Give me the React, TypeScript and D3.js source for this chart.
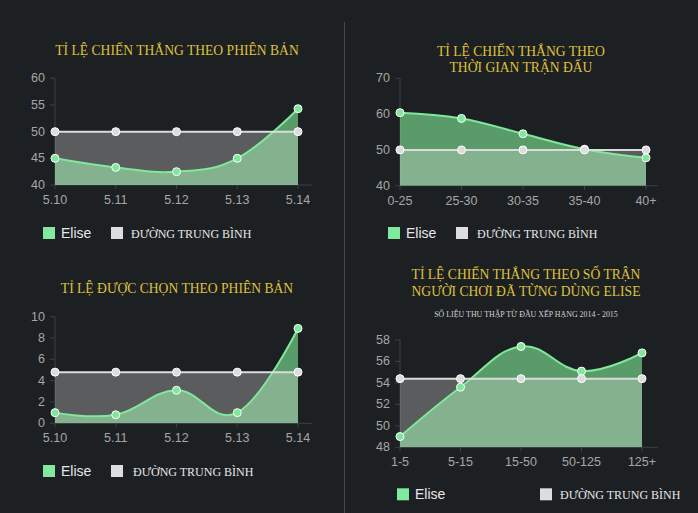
import React from "react";
import * as d3 from "d3";

// ---- data ----
const versions = ["5.10", "5.11", "5.12", "5.13", "5.14"];
const winRateByVersion = [45, 43.3, 42.5, 45, 54.3];
const winRateByVersionAvg = [50, 50, 50, 50, 50];

const durations = ["0-25", "25-30", "30-35", "35-40", "40+"];
const winRateByDuration = [60.4, 58.8, 54.5, 50.2, 47.8];
const winRateByDurationAvg = [50, 50, 50, 50, 50];

const pickRateByVersion = [1.0, 0.8, 3.1, 1.0, 8.9];
const pickRateByVersionAvg = [4.8, 4.8, 4.8, 4.8, 4.8];

const gamesPlayed = ["1-5", "5-15", "15-50", "50-125", "125+"];
const winRateByGames = [49.0, 53.6, 57.4, 55.1, 56.8];
const winRateByGamesAvg = [54.4, 54.4, 54.4, 54.4, 54.4];

const ticks1 = [40, 45, 50, 55, 60];
const ticks2 = [40, 50, 60, 70];
const ticks3 = [0, 2, 4, 6, 8, 10];
const ticks4 = [48, 50, 52, 54, 56, 58];

const titles1 = ["TỈ LỆ CHIẾN THẮNG THEO PHIÊN BẢN"];
const titles2 = ["TỈ LỆ CHIẾN THẮNG THEO", "THỜI GIAN TRẬN ĐẤU"];
const titles3 = ["TỈ LỆ ĐƯỢC CHỌN THEO PHIÊN BẢN"];
const titles4 = ["TỈ LỆ CHIẾN THẮNG THEO SỐ TRẬN", "NGƯỜI CHƠI ĐÃ TỪNG DÙNG ELISE"];
const subtitle4 = "SỐ LIỆU THU THẬP TỪ ĐẦU XẾP HẠNG 2014 - 2015";

const seriesName = "Elise";
const avgName = "ĐƯỜNG TRUNG BÌNH";

const BG = "#1d2023";
const GREEN_LINE = "#80e89a";
const GREEN_FILL = "rgba(129,236,150,0.61)";
const AVG_LINE = "#dcdcdc";
const AVG_FILL = "rgba(220,220,220,0.32)";
const GOLD = "#dfc03c";
const AXIS = "#3d4044";
const TICK_TXT = "#a6a6a6";

type ChartProps = {
  cats: string[];
  values: number[];
  avg: number[];
  ticks: number[];
  x0: number;
  x1: number;
  yTopPx: number;
  yBotPx: number;
  axisEnd: number;
  xLabelY: number;
  legendY: number;
  gx: number;
  wx: number;
  textX: number;
  titles: string[];
  titleYs: number[];
  titleX: number;
  subtitle?: string;
  subtitleY?: number;
};

function Chart(p: ChartProps) {
  const x = d3.scalePoint<string>().domain(p.cats).range([p.x0, p.x1]);
  const y = d3
    .scaleLinear()
    .domain([p.ticks[0], p.ticks[p.ticks.length - 1]])
    .range([p.yBotPx, p.yTopPx]);
  const curve = d3.curveCardinal.tension(-0.2);
  const base = y(p.ticks[0]);
  const area = d3
    .area<number>()
    .x((_, i) => x(p.cats[i]) as number)
    .y0(base)
    .y1((d) => y(d))
    .curve(curve);
  const line = d3
    .line<number>()
    .x((_, i) => x(p.cats[i]) as number)
    .y((d) => y(d))
    .curve(curve);
  const clipId = `clip-${p.x0}-${Math.round(p.yTopPx)}`;
  return (
    <g>
      <defs>
        <clipPath id={clipId}>
          <rect x={p.x0} y={p.yTopPx - 10} width={p.x1 - p.x0} height={base - p.yTopPx + 10} />
        </clipPath>
      </defs>
      {p.titles.map((t, i) => (
        <text
          key={t}
          x={p.titleX}
          y={p.titleYs[i]}
          textAnchor="middle"
          dominantBaseline="central"
          fill={GOLD}
          fontFamily="'Liberation Serif', 'Times New Roman', serif"
          fontSize={13.6}
        >
          {t}
        </text>
      ))}
      {p.subtitle && (
        <text
          x={p.titleX}
          y={p.subtitleY}
          textAnchor="middle"
          dominantBaseline="central"
          fill="#d2d2d2"
          fontFamily="'Liberation Serif', 'Times New Roman', serif"
          fontSize={7.9}
        >
          {p.subtitle}
        </text>
      )}
      {/* axes */}
      <line x1={p.x0} x2={p.x0} y1={y(p.ticks[p.ticks.length - 1])} y2={base} stroke={AXIS} strokeWidth={1} />
      <line x1={p.x0} x2={p.axisEnd} y1={base} y2={base} stroke={AXIS} strokeWidth={1} />
      {p.ticks.map((t) => (
        <g key={t}>
          <line x1={p.x0 - 5} x2={p.x0} y1={y(t)} y2={y(t)} stroke={AXIS} />
          <text
            x={p.x0 - 10}
            y={y(t)}
            textAnchor="end"
            dominantBaseline="central"
            fill={TICK_TXT}
            fontFamily="'Liberation Sans', Arial, sans-serif"
            fontSize={12.5}
          >
            {t}
          </text>
        </g>
      ))}
      {p.cats.map((c) => (
        <g key={c}>
          <line x1={x(c)} x2={x(c)} y1={base} y2={base + 4} stroke={AXIS} />
          <text
            x={x(c)}
            y={p.xLabelY}
            textAnchor="middle"
            dominantBaseline="central"
            fill={TICK_TXT}
            fontFamily="'Liberation Sans', Arial, sans-serif"
            fontSize={12.5}
          >
            {c}
          </text>
        </g>
      ))}
      {/* fills */}
      <g clipPath={`url(#${clipId})`}>
        <path d={area(p.values) || ""} fill={GREEN_FILL} />
        <path d={area(p.avg) || ""} fill={AVG_FILL} />
      </g>
      <path d={line(p.values) || ""} fill="none" stroke={GREEN_LINE} strokeWidth={2} />
      <path d={line(p.avg) || ""} fill="none" stroke={AVG_LINE} strokeWidth={2} />
      {p.values.map((v, i) => (
        <circle key={"v" + i} cx={x(p.cats[i])} cy={y(v)} r={4} fill={GREEN_LINE} stroke="#ffffff" strokeWidth={1} />
      ))}
      {p.avg.map((v, i) => (
        <circle key={"a" + i} cx={x(p.cats[i])} cy={y(v)} r={4} fill={AVG_LINE} stroke="#ffffff" strokeWidth={1} />
      ))}
      {/* legend */}
      <rect x={p.gx} y={p.legendY - 6} width={12} height={12} fill="#7fe99c" />
      <text
        x={p.gx + 18}
        y={p.legendY}
        dominantBaseline="central"
        fill="#e6e6e6"
        fontFamily="'Liberation Sans', Arial, sans-serif"
        fontSize={14}
      >
        {seriesName}
      </text>
      <rect x={p.wx} y={p.legendY - 6} width={12} height={12} fill="#dddddd" />
      <text
        x={p.textX}
        y={p.legendY + 1}
        dominantBaseline="central"
        fill="#e6e6e6"
        fontFamily="'Liberation Serif', 'Times New Roman', serif"
        fontSize={12}
      >
        {avgName}
      </text>
    </g>
  );
}

export default function App() {
  return (
    <svg
      width={698}
      height={513}
      style={{ position: "absolute", left: 0, top: 0, display: "block" }}
    >
      <rect x={0} y={0} width={698} height={513} fill={BG} />
      <line x1={344.5} x2={344.5} y1={22} y2={513} stroke="#45484c" strokeWidth={1} />
      <Chart
        cats={versions}
        values={winRateByVersion}
        avg={winRateByVersionAvg}
        ticks={ticks1}
        x0={55}
        x1={298}
        yTopPx={78.3}
        yBotPx={185}
        axisEnd={312}
        xLabelY={200}
        legendY={233}
        gx={43}
        wx={111}
        textX={131}
        titles={titles1}
        titleYs={[50]}
        titleX={177}
      />
      <Chart
        cats={durations}
        values={winRateByDuration}
        avg={winRateByDurationAvg}
        ticks={ticks2}
        x0={400}
        x1={646}
        yTopPx={78.3}
        yBotPx={185.7}
        axisEnd={658}
        xLabelY={201}
        legendY={233}
        gx={388}
        wx={456}
        textX={477}
        titles={titles2}
        titleYs={[51, 67.3]}
        titleX={521}
      />
      <Chart
        cats={versions}
        values={pickRateByVersion}
        avg={pickRateByVersionAvg}
        ticks={ticks3}
        x0={55}
        x1={298}
        yTopPx={316.7}
        yBotPx={423.3}
        axisEnd={312}
        xLabelY={437.5}
        legendY={471}
        gx={43}
        wx={111}
        textX={133}
        titles={titles3}
        titleYs={[288.3]}
        titleX={177}
      />
      <Chart
        cats={gamesPlayed}
        values={winRateByGames}
        avg={winRateByGamesAvg}
        ticks={ticks4}
        x0={400}
        x1={642}
        yTopPx={340}
        yBotPx={447.3}
        axisEnd={658}
        xLabelY={461.7}
        legendY={494.3}
        gx={397}
        wx={540}
        textX={560}
        titles={titles4}
        titleYs={[274.3, 291]}
        titleX={526}
        subtitle={subtitle4}
        subtitleY={314}
      />
    </svg>
  );
}
